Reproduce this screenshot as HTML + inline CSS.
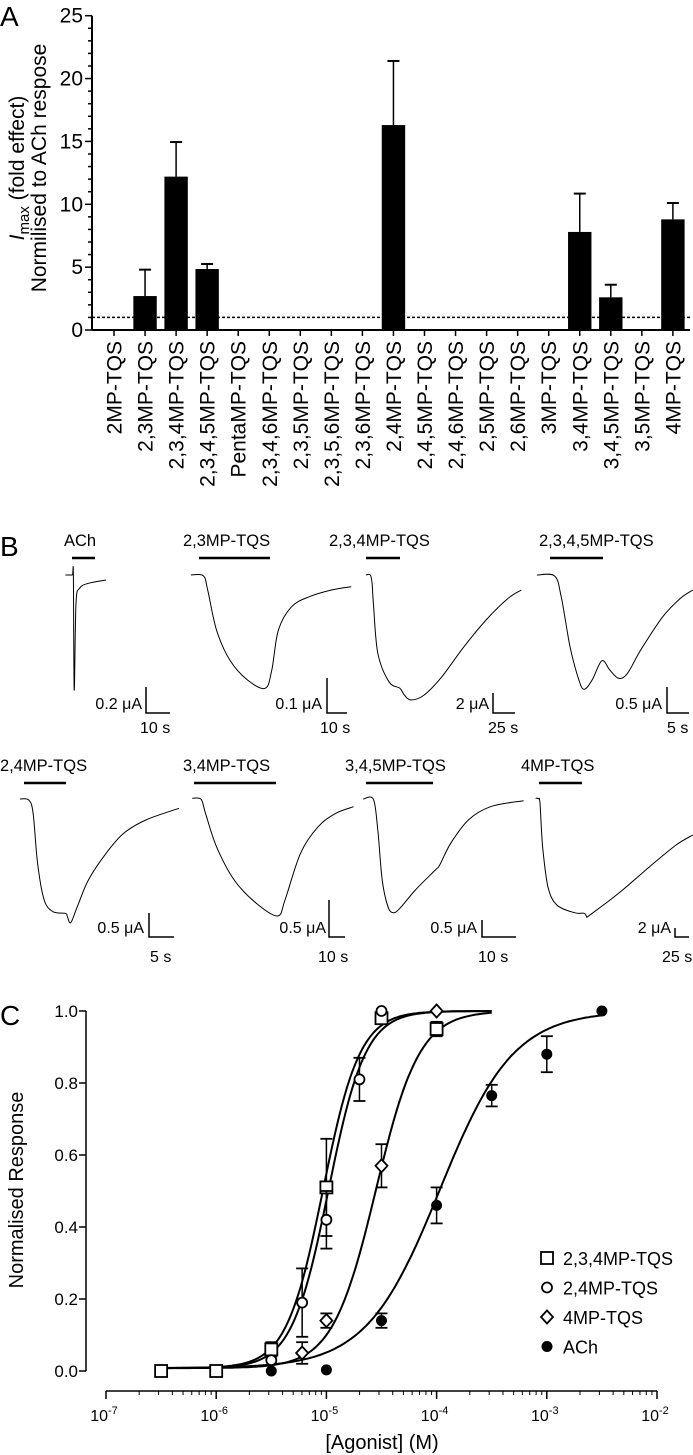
<!DOCTYPE html>
<html><head><meta charset="utf-8"><style>
html,body{margin:0;padding:0;background:#fff;}
svg{display:block;font-family:"Liberation Sans",Arial,sans-serif;}
</style></head><body>
<svg id="fig" width="693" height="1455" viewBox="0 0 693 1455" xmlns="http://www.w3.org/2000/svg">
<text x="0" y="26" font-size="28">A</text>
<text x="0" y="556" font-size="28">B</text>
<text x="0" y="1025" font-size="28">C</text>
<g id="pa"></g>
<g id="pb"></g>
<g id="pc"></g>
</svg>
<script>
// ---------- Panel A data ----------
const catsA = ["2MP-TQS","2,3MP-TQS","2,3,4MP-TQS","2,3,4,5MP-TQS","PentaMP-TQS","2,3,4,6MP-TQS","2,3,5MP-TQS","2,3,5,6MP-TQS","2,3,6MP-TQS","2,4MP-TQS","2,4,5MP-TQS","2,4,6MP-TQS","2,5MP-TQS","2,6MP-TQS","3MP-TQS","3,4MP-TQS","3,4,5MP-TQS","3,5MP-TQS","4MP-TQS"];
const valsA = [0,2.7,12.2,4.85,0,0,0,0,0,16.3,0,0,0,0,0,7.8,2.6,0,8.8];
const errsA = [0,2.1,2.75,0.4,0,0,0,0,0,5.1,0,0,0,0,0,3.05,1.0,0,1.3];
const ticksA = [0,5,10,15,20,25];
const refLineA = [1];

// ---------- Panel C data ----------
const seriesC = ["2,3,4MP-TQS","2,4MP-TQS","4MP-TQS","ACh"];
const sqX = [-6.5,-6,-5.5,-5,-4.5,-4];
const sqY = [0,0,0.06,0.51,0.98,0.95];
const sqE = [0,0,0.02,0.135,0.01,0.02];
const ciX = [-5.5,-5.22,-5,-4.7,-4.5];
const ciY = [0.03,0.19,0.42,0.81,1.0];
const ciE = [0,0.095,0.08,0.06,0];
const diX = [-5.22,-5,-4.5,-4];
const diY = [0.05,0.14,0.57,1.0];
const diE = [0.03,0.02,0.06,0];
const acX = [-5.5,-5,-4.5,-4,-3.5,-3,-2.5];
const acY = [0,0.003,0.14,0.46,0.765,0.88,1.0];
const acE = [0,0,0.02,0.05,0.03,0.05,0];
const fitEC50 = [-5.03,-4.98,-4.55,-3.97];
const fitHill = [2.6,2.6,2.2,1.3];
const fitEnd = [-3.5,-3.5,-3.5,-2.5];
const ticksCY = [0,0.2,0.4,0.6,0.8,1.0];
const ticksCX = [-7,-6,-5,-4,-3,-2];

const NS="http://www.w3.org/2000/svg";
function mk(parent,tag,attrs,name,text){
  const el=document.createElementNS(NS,tag);
  for(const k in attrs) el.setAttribute(k,attrs[k]);
  
  
  if(text!==undefined) el.textContent=text;
  parent.appendChild(el);return el;
}

// ---------- Panel A ----------
(function(){
  const g=document.getElementById('pa');
  const x0=114, dx=31.05, axX=92, y0=330, yTop=15.7;
  const ys=v=>y0-(v/25)*(y0-yTop);
  const xs=i=>x0+i*dx;
  mk(g,'line',{x1:axX,y1:ys(25),x2:axX,y2:y0,stroke:'#000','stroke-width':2},'y-axis');
  mk(g,'line',{x1:axX,y1:y0,x2:690,y2:y0,stroke:'#000','stroke-width':2},'x-axis');
  for(let v=0;v<=25;v++){
    const maj=v%5===0;
    mk(g,'line',{x1:axX-(maj?7:4),y1:ys(v),x2:axX,y2:ys(v),stroke:'#000','stroke-width':1.5},'y-tick');
  }
  ticksA.forEach(v=>mk(g,'text',{x:axX-9,y:ys(v)+7,'font-size':21,'text-anchor':'end'},'y-tick-label',String(v)));
  catsA.forEach((c,i)=>{
    mk(g,'line',{x1:xs(i),y1:y0,x2:xs(i),y2:y0+6,stroke:'#000','stroke-width':1.5},'x-tick');
    mk(g,'text',{x:0,y:0,'font-size':21,'text-anchor':'end',transform:`translate(${xs(i)+7.5},341) rotate(-90)`},'category-label',c);
    if(valsA[i]>0){
      const w=23.4;
      mk(g,'rect',{x:xs(i)-w/2,y:ys(valsA[i]),width:w,height:y0-ys(valsA[i]),fill:'#000'},'bar');
      const ye=ys(valsA[i]+errsA[i]);
      mk(g,'line',{x1:xs(i),y1:ye,x2:xs(i),y2:ys(valsA[i]),stroke:'#000','stroke-width':1.5},'error-bar');
      mk(g,'line',{x1:xs(i)-6,y1:ye,x2:xs(i)+6,y2:ye,stroke:'#000','stroke-width':2},'error-cap');
    }
  });
  refLineA.forEach(v=>mk(g,'line',{x1:axX,y1:ys(v),x2:690,y2:ys(v),stroke:'#000','stroke-width':1.5,'stroke-dasharray':'3,2'},'reference-line'));
  const t=mk(g,'text',{x:0,y:0,'font-size':21,'text-anchor':'middle',transform:'translate(24,168) rotate(-90)'},'y-axis-title-line1');
  t.innerHTML='<tspan font-style="italic">I</tspan><tspan font-size="15" dy="5">max</tspan><tspan dy="-5"> (fold effect)</tspan>';
  mk(g,'text',{x:0,y:0,'font-size':21,'text-anchor':'middle',transform:'translate(46,168) rotate(-90)'},'y-axis-title-line2','Normilised to ACh respose');
})();

// ---------- Panel B ----------
(function(){
  const g=document.getElementById('pb');
  const S=2.263;
  const traces=[
   {name:'ach',oy:570,pts:[[148,15],[158,15],[164,15],[166,15],[168,360],[172,100],[180,55],[200,40],[240,30]]},
   {name:'2-3mp',oy:570,pts:[[432,15],[460,17],[470,60],[490,180],[520,270],[560,330],[600,355],[615,300],[630,180],[660,110],[700,80],[750,60],[795,50]]},
   {name:'2-3-4mp',oy:570,pts:[[828,15],[838,15],[842,40],[845,100],[855,250],[880,335],[905,355],[915,375],[930,390],[960,375],[1000,320],[1050,230],[1100,150],[1150,85],[1180,60]]},
   {name:'2-3-4-5mp',oy:570,pts:[[1215,15],[1255,18],[1270,80],[1290,230],[1310,330],[1322,358],[1340,330],[1362,272],[1380,300],[1400,325],[1420,310],[1450,240],[1500,140],[1540,85],[1568,60]]},
   {name:'2-4mp',oy:780,pts:[[45,57],[65,60],[75,100],[85,250],[100,360],[120,395],[148,400],[152,408],[160,428],[175,380],[200,300],[240,220],[280,160],[330,120],[405,85]]},
   {name:'3-4mp',oy:780,pts:[[435,55],[455,58],[465,100],[490,200],[530,300],[580,370],[628,408],[645,360],[680,220],[720,140],[760,100],[800,80]]},
   {name:'3-4-5mp',oy:780,pts:[[822,57],[845,58],[855,150],[865,300],[878,380],[890,398],[905,385],[940,330],[985,270],[995,255],[1020,190],[1060,120],[1110,80],[1185,62]]},
   {name:'4mp',oy:780,pts:[[1212,55],[1218,56],[1222,70],[1228,200],[1240,320],[1260,375],[1300,398],[1322,400],[1328,410],[1335,405],[1400,340],[1470,260],[1530,195],[1568,165]]}
  ];
  traces.forEach(t=>{
    const p=t.pts.map(q=>[q[0]/S,t.oy+q[1]/3]);
    let d='M'+p[0][0].toFixed(1)+','+p[0][1].toFixed(1);
    for(let i=1;i<p.length;i++){
      const a=p[Math.max(0,i-2)],b=p[i-1],c=p[i],e=p[Math.min(p.length-1,i+1)];
      const c1=[b[0]+(c[0]-a[0])/6,b[1]+(c[1]-a[1])/6],c2=[c[0]-(e[0]-b[0])/6,c[1]-(e[1]-b[1])/6];
      d+=` C${c1[0].toFixed(1)},${c1[1].toFixed(1)} ${c2[0].toFixed(1)},${c2[1].toFixed(1)} ${c[0].toFixed(1)},${c[1].toFixed(1)}`;
    }
    mk(g,'path',{d:d,fill:'none',stroke:'#000','stroke-width':1},'trace-'+t.name);
  });
  const labels=[
   ['ACh',64,546,72,95,558],['2,3MP-TQS',183,546,199,270,558],['2,3,4MP-TQS',329,546,366,400,558],['2,3,4,5MP-TQS',539,546,550,603,558],
   ['2,4MP-TQS',0,771,24,66,783],['3,4MP-TQS',183,771,194,276,783],['3,4,5MP-TQS',345,771,366,433,783],['4MP-TQS',521,771,539,582,783]];
  labels.forEach(l=>{
    mk(g,'text',{x:l[1],y:l[2],'font-size':16.5},'application-label',l[0]);
    mk(g,'line',{x1:l[3],y1:l[5],x2:l[4],y2:l[5],stroke:'#000','stroke-width':2.5},'application-bar');
  });
  const sb=[
   [146,687,713,170,'0.2 μA',142,'10 s',140,733],
   [327,678,713,347,'0.1 μA',322,'10 s',320,733],
   [493,693,713,515,'2 μA',489,'25 s',488,733],
   [667,687,713,689,'0.5 μA',662,'5 s',667,733],
   [149,913,937,174,'0.5 μA',144,'5 s',150,962],
   [329,900,937,345,'0.5 μA',326,'10 s',318,962],
   [482,920,937,516,'0.5 μA',477,'10 s',478,962],
   [675,928,937,689,'2 μA',671,'25 s',662,962]];
  sb.forEach(s=>{
    mk(g,'path',{d:`M${s[0]},${s[1]} L${s[0]},${s[2]} L${s[3]},${s[2]}`,fill:'none',stroke:'#000','stroke-width':1.5},'scale-bar');
    mk(g,'text',{x:s[5],y:s[2]-4,'font-size':16,'text-anchor':'end'},'scale-current-label',s[4]);
    mk(g,'text',{x:s[7],y:s[8],'font-size':16},'scale-time-label',s[6]);
  });
})();

// ---------- Panel C ----------
(function(){
  const g=document.getElementById('pc');
  const xL=106, dec=110.2, axY=1391, yAx=86, y0=1371, y1=1011;
  const xs=l=>xL+(l+7)*dec;
  const ys=v=>y0-v*(y0-y1);
  mk(g,'line',{x1:yAx,y1:y1,x2:yAx,y2:y0,stroke:'#000','stroke-width':1.5},'y-axis');
  ticksCY.forEach(v=>{
    mk(g,'line',{x1:yAx-7,y1:ys(v),x2:yAx,y2:ys(v),stroke:'#000','stroke-width':1.5},'y-tick');
    mk(g,'text',{x:yAx-8,y:ys(v)+6,'font-size':17,'text-anchor':'end'},'y-tick-label',v.toFixed(1));
  });
  mk(g,'line',{x1:xs(-7),y1:axY,x2:xs(-2),y2:axY,stroke:'#000','stroke-width':1.5},'x-axis');
  for(let e=-7;e<-2;e++){for(let m=2;m<=9;m++){const l=e+Math.log10(m);
    mk(g,'line',{x1:xs(l),y1:axY,x2:xs(l),y2:axY+4,stroke:'#000','stroke-width':1},'x-minor-tick');}}
  ticksCX.forEach(e=>{
    mk(g,'line',{x1:xs(e),y1:axY,x2:xs(e),y2:axY+8,stroke:'#000','stroke-width':1.5},'x-tick');
    const t=mk(g,'text',{x:xs(e)-2,y:axY+30,'font-size':16,'text-anchor':'middle'},'x-tick-label');
    t.innerHTML='10<tspan font-size="11" dy="-7">'+e+'</tspan>';
  });
  mk(g,'text',{x:0,y:0,'font-size':20,'text-anchor':'middle',transform:'translate(23,1190) rotate(-90)'},'y-axis-title','Normalised Response');
  mk(g,'text',{x:382,y:1449,'font-size':20,'text-anchor':'middle'},'x-axis-title','[Agonist] (M)');
  fitEC50.forEach((ec,k)=>{
    let d='';for(let l=-6.5;l<=fitEnd[k]+1e-9;l+=0.02){const v=0.008+0.992/(1+Math.pow(10,fitHill[k]*(ec-l)));d+=(d?'L':'M')+xs(l).toFixed(1)+','+ys(v).toFixed(1);}
    mk(g,'path',{d:d,fill:'none',stroke:'#000','stroke-width':2},'fit-curve-'+k);
  });
  function marker(type,x,y,legend){
    const nm=legend?'legend-marker':'data-point';
    if(type==='sq') mk(g,'rect',{x:x-6,y:y-6,width:12,height:12,fill:'#fff',stroke:'#000','stroke-width':1.8},nm);
    else if(type==='ci') mk(g,'circle',{cx:x,cy:y,r:5,fill:'#fff',stroke:'#000','stroke-width':1.8},nm);
    else if(type==='di') mk(g,'path',{d:`M${x},${y-6.5} L${x+6},${y} L${x},${y+6.5} L${x-6},${y} Z`,fill:'#fff',stroke:'#000','stroke-width':1.8},nm);
    else mk(g,'circle',{cx:x,cy:y,r:5.5,fill:'#000'},nm);
  }
  const sets=[[sqX,sqY,sqE,'sq'],[ciX,ciY,ciE,'ci'],[diX,diY,diE,'di'],[acX,acY,acE,'ac']];
  sets.forEach(s=>{
    s[0].forEach((l,i)=>{
      const x=xs(l),y=ys(s[1][i]),e=s[2][i];
      if(e>0){const a=ys(s[1][i]+e),b=ys(s[1][i]-e);
        mk(g,'line',{x1:x,y1:a,x2:x,y2:b,stroke:'#000','stroke-width':1.5},'error-bar');
        mk(g,'line',{x1:x-6,y1:a,x2:x+6,y2:a,stroke:'#000','stroke-width':1.8},'error-cap');
        mk(g,'line',{x1:x-6,y1:b,x2:x+6,y2:b,stroke:'#000','stroke-width':1.8},'error-cap');}
      marker(s[3],x,y,false);
    });
  });
  const types=['sq','ci','di','ac'];
  seriesC.forEach((n,i)=>{
    const y=1258+i*29.5;
    marker(types[i],547,y,true);
    mk(g,'text',{x:563,y:y+7,'font-size':18},'legend-entry',n);
  });
})();
</script>
</body></html>
